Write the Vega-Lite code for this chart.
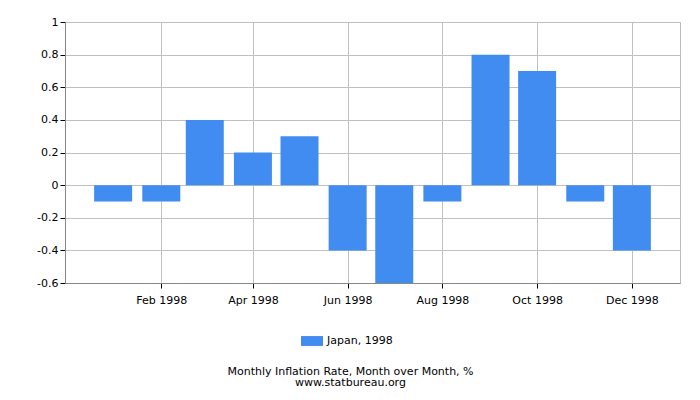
{
  "$schema": "https://vega.github.io/schema/vega-lite/v6.json",
  "width": 615,
  "height": 261,
  "autosize": "none",
  "padding": {"left": 65, "top": 22, "right": 20, "bottom": 117},
  "background": "white",
  "data": {
    "values": [
      {"month": "1998-01-01", "series": "Japan, 1998", "rate": -0.1},
      {"month": "1998-02-01", "series": "Japan, 1998", "rate": -0.1},
      {"month": "1998-03-01", "series": "Japan, 1998", "rate": 0.4},
      {"month": "1998-04-01", "series": "Japan, 1998", "rate": 0.2},
      {"month": "1998-05-01", "series": "Japan, 1998", "rate": 0.3},
      {"month": "1998-06-01", "series": "Japan, 1998", "rate": -0.4},
      {"month": "1998-07-01", "series": "Japan, 1998", "rate": -0.6},
      {"month": "1998-08-01", "series": "Japan, 1998", "rate": -0.1},
      {"month": "1998-09-01", "series": "Japan, 1998", "rate": 0.8},
      {"month": "1998-10-01", "series": "Japan, 1998", "rate": 0.7},
      {"month": "1998-11-01", "series": "Japan, 1998", "rate": -0.1},
      {"month": "1998-12-01", "series": "Japan, 1998", "rate": -0.4}
    ]
  },
  "title": {
    "text": "Monthly Inflation Rate, Month over Month, %",
    "subtitle": "www.statbureau.org",
    "orient": "bottom",
    "anchor": "middle",
    "dx": -22,
    "offset": 20,
    "font": "DejaVu Sans",
    "fontSize": 11,
    "fontWeight": "normal",
    "color": "#000000",
    "subtitleFont": "DejaVu Sans",
    "subtitleFontSize": 11,
    "subtitleColor": "#000000",
    "subtitlePadding": 0
  },
  "mark": {"type": "bar", "width": 38, "color": "#418cf0"},
  "encoding": {
    "x": {
      "field": "month",
      "type": "temporal",
      "scale": {"type": "utc", "domain": ["1997-12-01", "1999-01-01"], "padding": 0, "nice": false},
      "axis": {
        "title": null,
        "values": ["1998-02-01", "1998-04-01", "1998-06-01", "1998-08-01", "1998-10-01", "1998-12-01"],
        "labelExpr": "utcFormat(datum.value, '%b %Y')",
        "labelPadding": 6,
        "tickSize": 5
      }
    },
    "y": {
      "field": "rate",
      "type": "quantitative",
      "scale": {"domain": [-0.6, 1], "nice": false, "zero": false},
      "axis": {
        "title": null,
        "values": [-0.6, -0.4, -0.2, 0, 0.2, 0.4, 0.6, 0.8, 1],
        "labelExpr": "datum.value == 0 ? '0' : (datum.value < 0 ? '-' + format(-datum.value, '.1~f') : format(datum.value, '.1~f'))",
        "tickSize": 5,
        "labelPadding": 2
      }
    },
    "color": {
      "field": "series",
      "type": "nominal",
      "scale": {"range": ["#418cf0"]},
      "legend": {
        "title": null,
        "orient": "none",
        "legendX": 236,
        "legendY": 308,
        "symbolType": "M-1,-0.45H1V0.45H-1Z",
        "symbolSize": 484,
        "symbolStrokeWidth": 0,
        "labelFont": "DejaVu Sans",
        "labelFontSize": 11,
        "labelColor": "#000000"
      }
    }
  },
  "config": {
    "view": {"stroke": "#bbbbbb"},
    "axis": {
      "labelFont": "DejaVu Sans",
      "labelFontSize": 11,
      "labelColor": "#000000",
      "gridColor": "#c0c0c0",
      "gridOpacity": 1,
      "domainColor": "#888888",
      "tickColor": "#000000"
    }
  }
}
